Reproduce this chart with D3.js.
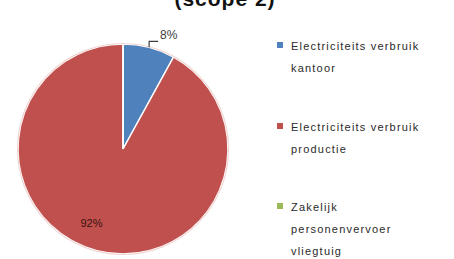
<!DOCTYPE html>
<html><head><meta charset="utf-8">
<script src="https://cdn.jsdelivr.net/npm/d3@7"></script>
<style>
html,body{margin:0;padding:0;background:#fff;}
svg{display:block;}
</style></head>
<body>
<svg id="c" width="454" height="259"></svg>
<script>
const title = "(scope 2)";
const categories = ["Electriciteits verbruik kantoor", "Electriciteits verbruik productie", "Zakelijk personenvervoer vliegtuig"];
const legendLines = [["Electriciteits verbruik", "kantoor"], ["Electriciteits verbruik", "productie"], ["Zakelijk", "personenvervoer", "vliegtuig"]];
const values = [8, 92, 0];
const colors = ["#4F81BD", "#C0504D", "#9BBB59"];

const svg = d3.select("#c");
const cx = 123, cy = 149, R = 105;

svg.append("text").attr("x", 225).attr("y", 6).attr("text-anchor", "middle")
  .attr("font-family", "Liberation Sans, Arial, sans-serif").attr("font-weight", "bold")
  .attr("font-size", 21).attr("letter-spacing", 1).attr("fill", "#111").text(title);

const pie = d3.pie().sort(null).value(d => d)(values);
const arc = d3.arc().innerRadius(0).outerRadius(R);
const g = svg.append("g").attr("transform", `translate(${cx},${cy})`);
const total = d3.sum(values);

g.selectAll("path").data(pie).join("path")
  .attr("d", arc).attr("fill", (d, i) => colors[i])
  .attr("stroke", "#fff").attr("stroke-width", 1.5);
g.append("circle").attr("r", R + 0.5).attr("fill", "none").attr("stroke", "#f1d6d4").attr("stroke-width", 1.2);

// 8% label with leader
const d0 = pie[0];
const a0 = (d0.startAngle + d0.endAngle) / 2;
const px = R * Math.sin(a0), py = -R * Math.cos(a0);
const ey = py - 6;
g.append("path").attr("d", `M${px},${py}V${ey}H${px + 9}`)
  .attr("fill", "none").attr("stroke", "#404040").attr("stroke-width", 1.2);
g.append("text").attr("x", px + 11).attr("y", ey - 2)
  .attr("font-family", "Liberation Sans, Arial, sans-serif").attr("font-size", 12)
  .attr("fill", "#404040").text(Math.round(values[0] / total * 100) + "%");

// 92% label inside
const d1 = pie[1];
const a1 = (d1.startAngle + d1.endAngle) / 2 + 0.15;
const lr = R * 0.77;
g.append("text").attr("x", lr * Math.sin(a1)).attr("y", -lr * Math.cos(a1))
  .attr("text-anchor", "middle").attr("dy", "0.35em")
  .attr("font-family", "Liberation Sans, Arial, sans-serif").attr("font-size", 11)
  .attr("fill", "#3a1010").text(Math.round(values[1] / total * 100) + "%");

// legend
const lg = svg.append("g");
const rowY = [46, 127, 207];
legendLines.forEach((lines, i) => {
  lg.append("rect").attr("x", 277).attr("y", rowY[i] - 4).attr("width", 6).attr("height", 6).attr("fill", colors[i]);
  lines.forEach((t, j) => {
    lg.append("text").attr("x", 291).attr("y", rowY[i] + j * 22).attr("dy", "0.35em")
      .attr("font-family", "Liberation Sans, Arial, sans-serif").attr("font-size", 11)
      .attr("letter-spacing", 1.2).attr("fill", "#2a2a2a").text(t);
  });
});
</script>
</body></html>
